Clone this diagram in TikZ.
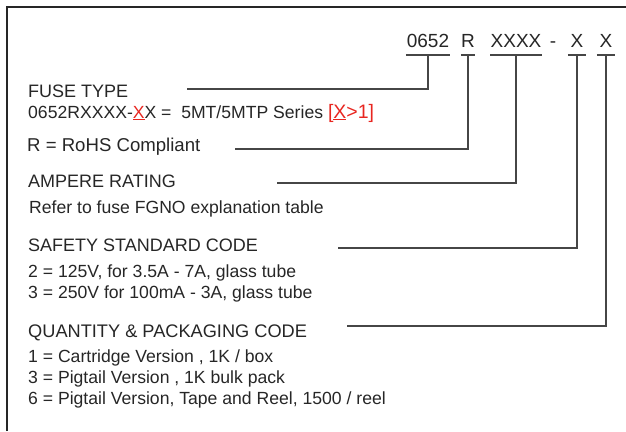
\documentclass[tikz,border=0pt]{standalone}
\usepackage{fontspec}
\setmainfont{Liberation Sans}
\usepackage{xcolor}
\definecolor{Rojo}{RGB}{232,38,32}
\definecolor{Linea}{RGB}{70,70,70}
\usetikzlibrary{calc, positioning}

\begin{document}
\begin{tikzpicture}[x=1pt, y=-1pt,
    code/.style={anchor=base, inner sep=0pt,
                font=\fontsize{19}{22}\selectfont, text=black!85},
    lbl/.style={anchor=base west, inner sep=0pt,
                font=\fontsize{17.6}{21}\selectfont, text=black!85},
    head/.style={lbl, font=\fontsize{18}{21}\selectfont},
    uline/.style={line width=1.3pt, color=Linea},
    lead/.style={line width=1.3pt, color=Linea},
    frame/.style={line width=1.8pt, color=black!85}]

  \useasboundingbox (0,0) rectangle (626,431);
  \draw[frame] (7,431) -- (7,7) -- (626,7);

  %--- Codigo de pieza ---
  \node[code, minimum width=44pt] (c0652) at (428,47) {0652};
  \node[code, minimum width=12pt] (cR)    at (468,47) {R};
  \node[code, minimum width=49pt] (cXXXX) at (516,47) {XXXX};
  \node[code]                     (cdash) at (553,47) {-};
  \node[code, minimum width=18pt] (cXa)   at (577,47) {X};
  \node[code, minimum width=18pt] (cXb)   at (606,47) {X};
  \foreach \n in {c0652, cR, cXXXX, cXa, cXb}
    \draw[uline] ([yshift=-8pt]\n.base west) -- ([yshift=-8pt]\n.base east);

  %--- Textos ---
  \node[head] (fuse)   at (28,97)  {FUSE TYPE};
  \node[lbl]  (series) at (28,118)
    {0652RXXXX-{\color{Rojo}\underline{X}}X =\ \ 5MT/5MTP Series
     {\color{Rojo}\fontsize{19.5}{21}\selectfont[\underline{X}>1]}};
  \node[lbl, font=\fontsize{18.6}{21}\selectfont] (rohs) at (27,151) {R = RoHS Compliant};
  \node[head] (amp)    at (28,187) {AMPERE RATING};
  \node[lbl]  (refer)  at (29,213) {Refer to fuse FGNO explanation table};
  \node[head] (safety) at (28,251) {SAFETY STANDARD CODE};
  \node[lbl]  (s2)     at (28,277) {2 = 125V, for 3.5A - 7A, glass tube};
  \node[lbl]  (s3)     at (28,298) {3 = 250V for 100mA - 3A, glass tube};
  \node[head, font=\fontsize{18.2}{21}\selectfont] (qty) at (28,337) {QUANTITY \& PACKAGING CODE};
  \node[lbl]  (q1)     at (28,362) {1 = Cartridge Version , 1K / box};
  \node[lbl]  (q3)     at (28,383) {3 = Pigtail Version , 1K bulk pack};
  \node[lbl]  (q6)     at (28,404) {6 = Pigtail Version, Tape and Reel, 1500 / reel};

  %--- Lineas guia ---
  \coordinate (lfuse)   at (187,89);
  \coordinate (lrohs)   at (235,149);
  \coordinate (lamp)    at (277,183);
  \coordinate (lsafety) at (338,248);
  \coordinate (lqty)    at (347,326);
  \draw[lead] ([yshift=-8pt]c0652.base) |- (lfuse);
  \draw[lead] ([yshift=-8pt]cR.base)    |- (lrohs);
  \draw[lead] ([yshift=-8pt]cXXXX.base) |- (lamp);
  \draw[lead] ([yshift=-8pt]cXa.base)   |- (lsafety);
  \draw[lead] ([yshift=-8pt]cXb.base)   |- (lqty);
\end{tikzpicture}
\end{document}
